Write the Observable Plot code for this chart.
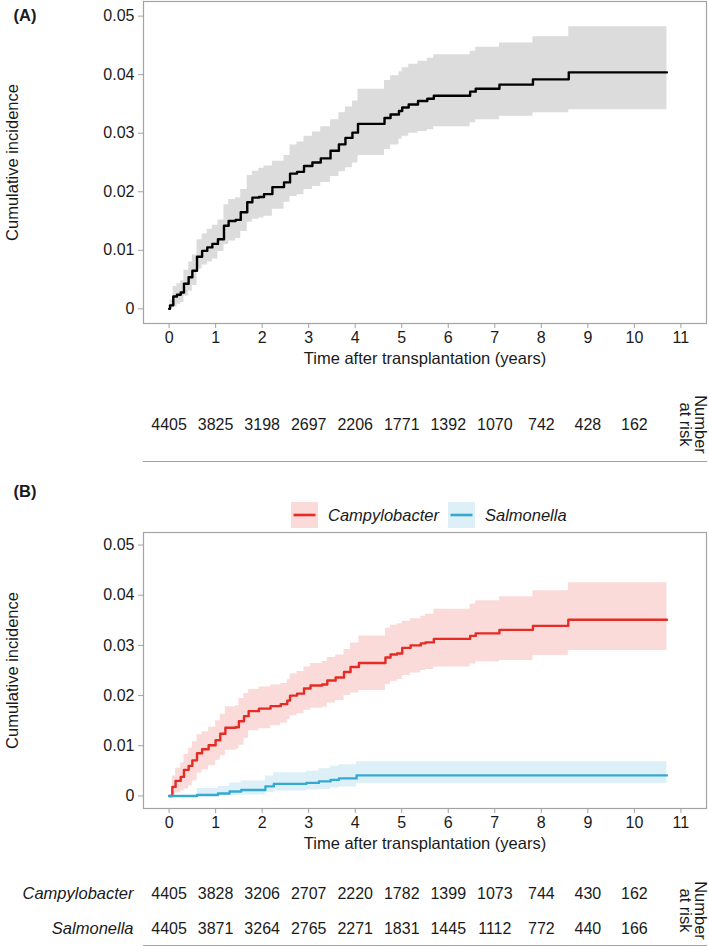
<!DOCTYPE html>
<html><head><meta charset="utf-8">
<script src="https://cdn.jsdelivr.net/npm/d3@7"></script>
<script src="https://cdn.jsdelivr.net/npm/@observablehq/plot@0.6"></script>
<style>
body{margin:0;background:#fff;}
#root{position:relative;width:709px;height:946px;font-family:"Liberation Sans",Arial,Helvetica,sans-serif;color:#1a1a1a;overflow:hidden;}
#root > svg, #root > div{position:absolute;left:0;}
.lg{display:flex;align-items:center;font-size:16.5px;font-style:italic;}
</style></head><body><div id="root"></div>
<script>
// ---------- data ----------
const xTicks = [0,1,2,3,4,5,6,7,8,9,10,11];
const yTicks = [0,0.01,0.02,0.03,0.04,0.05];
const xTitle = "Time after transplantation (years)";
const yTitle = "Cumulative incidence";
const riskTitleLines = ["Number", "at risk"];
const groups = ["Campylobacter","Salmonella"];

// Panel A: overall cumulative incidence
const aTime = [0,0.02,0.09,0.17,0.25,0.32,0.42,0.5,0.6,0.71,0.82,0.93,1.05,1.18,1.28,1.43,1.54,1.68,1.79,1.93,2.04,2.22,2.47,2.6,2.75,2.9,3.08,3.26,3.47,3.65,3.79,3.94,4.06,4.63,4.76,4.94,5.01,5.15,5.35,5.55,5.69,6.47,6.59,7.1,7.82,8.59,10.7];
const aEst  = [0,0.0006,0.0021,0.0024,0.0028,0.0043,0.0054,0.0065,0.0089,0.0099,0.0105,0.0111,0.0119,0.0142,0.0150,0.0152,0.0165,0.0182,0.0190,0.0191,0.0196,0.0208,0.0216,0.0231,0.0234,0.0244,0.0250,0.0257,0.0270,0.0281,0.0292,0.0301,0.0316,0.0326,0.0332,0.0338,0.0344,0.0349,0.0355,0.0359,0.0364,0.0371,0.0376,0.0383,0.0392,0.0404,0.0404];
const aLo   = [0,0,0.0003,0.0008,0.0011,0.0022,0.0030,0.0040,0.0068,0.0075,0.0080,0.0085,0.0098,0.0110,0.0116,0.0120,0.0132,0.0148,0.0153,0.0155,0.0158,0.0170,0.0182,0.0192,0.0195,0.0204,0.0209,0.0216,0.0226,0.0234,0.0241,0.0249,0.0262,0.0272,0.0280,0.0290,0.0295,0.0300,0.0303,0.0306,0.0311,0.0318,0.0323,0.0329,0.0335,0.0340,0.0340];
const aHi   = [0,0.0015,0.0038,0.0043,0.0048,0.0066,0.0080,0.0092,0.0118,0.0128,0.0136,0.0143,0.0152,0.0178,0.0187,0.0190,0.0204,0.0228,0.0235,0.0240,0.0244,0.0252,0.0262,0.0280,0.0285,0.0295,0.0302,0.0311,0.0323,0.0335,0.0345,0.0355,0.0375,0.0390,0.0398,0.0405,0.0412,0.0418,0.0423,0.0428,0.0434,0.0440,0.0447,0.0454,0.0465,0.0482,0.0482];

// Panel B: Campylobacter
const cTime = [0,0.07,0.14,0.25,0.32,0.42,0.5,0.6,0.71,0.85,1.0,1.1,1.21,1.43,1.5,1.61,1.71,1.93,2.18,2.4,2.54,2.6,2.75,2.9,3.04,3.29,3.4,3.58,3.76,3.9,4.08,4.65,4.76,4.9,5.01,5.19,5.41,5.51,5.69,6.47,6.59,7.1,7.82,8.58,10.7];
const cEst  = [0,0.0018,0.0030,0.0038,0.0052,0.0060,0.0071,0.0085,0.0093,0.0101,0.0111,0.0124,0.0136,0.0137,0.0149,0.0159,0.0169,0.0174,0.0179,0.0183,0.0190,0.0200,0.0204,0.0214,0.0220,0.0222,0.0230,0.0236,0.0247,0.0257,0.0265,0.0276,0.0282,0.0284,0.0295,0.0300,0.0304,0.0306,0.0313,0.0319,0.0324,0.0331,0.0339,0.0351,0.0351];
const cLo   = [0,0.0002,0.0006,0.0010,0.0014,0.0020,0.0030,0.0045,0.0052,0.0060,0.0071,0.0080,0.0091,0.0093,0.0101,0.0115,0.0130,0.0134,0.0140,0.0145,0.0152,0.0160,0.0164,0.0171,0.0175,0.0177,0.0185,0.0190,0.0200,0.0205,0.0210,0.0222,0.0228,0.0232,0.0240,0.0245,0.0250,0.0252,0.0257,0.0263,0.0267,0.0270,0.0280,0.0290,0.0290];
const cHi   = [0,0.0040,0.0055,0.0066,0.0083,0.0095,0.0108,0.0122,0.0128,0.0137,0.0150,0.0163,0.0178,0.0180,0.0194,0.0204,0.0212,0.0217,0.0221,0.0224,0.0232,0.0243,0.0248,0.0257,0.0264,0.0268,0.0276,0.0281,0.0292,0.0305,0.0319,0.0334,0.0340,0.0343,0.0348,0.0353,0.0358,0.0362,0.0372,0.0382,0.0389,0.0397,0.0409,0.0425,0.0425];

// Panel B: Salmonella
const sTime = [0,0.6,1.05,1.3,1.55,2.07,2.25,2.95,3.22,3.47,3.65,4.03,10.7];
const sEst  = [0,0.0002,0.0005,0.0009,0.0012,0.0019,0.0024,0.0026,0.0029,0.0032,0.0035,0.0041,0.0041];
const sLo   = [0,0,0,0.0001,0.0002,0.0007,0.0010,0.0012,0.0013,0.0016,0.0018,0.0025,0.0025];
const sHi   = [0,0.0015,0.0019,0.0026,0.0030,0.0040,0.0046,0.0049,0.0054,0.0059,0.0062,0.0068,0.0068];

// Numbers at risk
const riskTimes = [0,1,2,3,4,5,6,7,8,9,10];
const riskAll   = [4405,3825,3198,2697,2206,1771,1392,1070,742,428,162];
const riskCampy = [4405,3828,3206,2707,2220,1782,1399,1073,744,430,162];
const riskSalm  = [4405,3871,3264,2765,2271,1831,1445,1112,772,440,166];

// ---------- styling ----------
const FONT = '"Liberation Sans", Arial, Helvetica, sans-serif';
const INK = "#1a1a1a";
const GRID = "#a3a3a3";
const colA = {line:"#000000", fill:"#dcdcdc"};
const colC = {line:"#e52b24", fill:"#fadbd9"};
const colS = {line:"#36a9d3", fill:"#ddeff7"};
const X_DOMAIN = [-0.55, 11.55];
const Y_DOMAIN = [-0.0025, 0.0525];

const rowsOf = (t, e, lo, hi) => t.map((v,i)=>({t:v, est:e[i], lo:lo[i], hi:hi[i]}));
const root = document.getElementById("root");

function panel(series, opts){
  const marks = [];
  for (const s of series) marks.push(Plot.areaY(s.rows, {x:"t", y1:"lo", y2:"hi", curve:"step-after", fill:s.col.fill}));
  for (const s of series) marks.push(Plot.lineY(s.rows, {x:"t", y:"est", curve:"step-after", stroke:s.col.line, strokeWidth:2.4}));
  marks.push(
    Plot.frame({stroke:GRID, strokeWidth:1.2}),
    Plot.axisX({ticks:xTicks, tickSize:5, tickPadding:3, stroke:GRID, fill:INK, fontSize:16, label:null, tickFormat:d=>String(d)}),
    Plot.axisY({ticks:yTicks, tickSize:5, tickPadding:4, stroke:GRID, fill:INK, fontSize:16, label:null, tickFormat:d=>String(d)}),
    Plot.text([xTitle], {frameAnchor:"bottom", dy:35, textAnchor:"middle", lineAnchor:"middle", fontSize:16.5, fill:INK}),
    Plot.text([yTitle], {frameAnchor:"left", dx:-131, rotate:-90, textAnchor:"middle", lineAnchor:"middle", fontSize:16.5, fill:INK}),
    Plot.text([opts.label], {frameAnchor:"top-left", dx:-118.5, dy:opts.labelDy, textAnchor:"middle", lineAnchor:"middle", fontSize:16.5, fontWeight:"bold", fill:INK})
  );
  const svg = Plot.plot({
    width:709, height:opts.height, marginLeft:143, marginRight:3, marginTop:opts.marginTop, marginBottom:opts.marginBottom,
    x:{domain:X_DOMAIN}, y:{domain:Y_DOMAIN},
    style:{fontFamily:FONT, fontSize:"16px", color:INK, background:"transparent", overflow:"visible"},
    marks
  });
  svg.style.top = opts.top + "px";
  root.appendChild(svg);
}

function riskTable(groupsList, counts, opts){
  const data = [];
  groupsList.forEach((g, gi) => riskTimes.forEach((t,i)=>data.push({g, t, n:counts[gi][i]})));
  const marks = [
    Plot.text(data, {x:"t", y:"g", text:d=>String(d.n), fontSize:16, fill:INK}),
    Plot.text([riskTitleLines[0]], {frameAnchor:"right", dx:-6, rotate:90, textAnchor:"middle", lineAnchor:"middle", fontSize:16.5, fill:INK}),
    Plot.text([riskTitleLines[1]], {frameAnchor:"right", dx:-21, rotate:90, textAnchor:"middle", lineAnchor:"middle", fontSize:16.5, fill:INK}),
    Plot.frame({anchor:"bottom", stroke:GRID, strokeWidth:1.2})
  ];
  if (opts.showLabels) marks.push(Plot.text(groupsList, {y:d=>d, frameAnchor:"left", dx:-10, textAnchor:"end", lineAnchor:"middle", fontStyle:"italic", fontSize:16.5, fill:INK}));
  const svg = Plot.plot({
    width:709, height:opts.height, marginLeft:143, marginRight:3, marginTop:opts.marginTop, marginBottom:1,
    x:{domain:X_DOMAIN, axis:null}, y:{type:"point", domain:groupsList, padding:0.5, axis:null},
    style:{fontFamily:FONT, fontSize:"16px", color:INK, background:"transparent", overflow:"visible"},
    marks
  });
  svg.style.top = opts.top + "px";
  root.appendChild(svg);
}

// Panel A
panel([{rows:rowsOf(aTime,aEst,aLo,aHi), col:colA}], {top:0, height:375, marginTop:1, marginBottom:52, label:"(A)", labelDy:14});
riskTable(["All"], [riskAll], {top:385, height:77, marginTop:2, showLabels:false});

// Panel B legend
const lg = document.createElement("div");
lg.className = "lg";
lg.style.top = "502px"; lg.style.left = "291px"; lg.style.height = "26px";
function key(col){
  const ns = "http://www.w3.org/2000/svg";
  const s = document.createElementNS(ns, "svg");
  s.setAttribute("width", 27); s.setAttribute("height", 26);
  s.style.display = "block";
  const r = document.createElementNS(ns, "rect");
  r.setAttribute("width", 27); r.setAttribute("height", 26); r.setAttribute("fill", col.fill);
  const l = document.createElementNS(ns, "line");
  l.setAttribute("x1", 2.5); l.setAttribute("x2", 24.5); l.setAttribute("y1", 13); l.setAttribute("y2", 13);
  l.setAttribute("stroke", col.line); l.setAttribute("stroke-width", 2.6);
  s.appendChild(r); s.appendChild(l);
  return s;
}
[[groups[0], colC],[groups[1], colS]].forEach(([name,col],i)=>{
  const k = key(col);
  if (i===1) k.style.marginLeft = "9px";
  lg.appendChild(k);
  const sp = document.createElement("span");
  sp.textContent = name; sp.style.marginLeft = "10px";
  lg.appendChild(sp);
});
root.appendChild(lg);

// Panel B
panel([{rows:rowsOf(cTime,cEst,cLo,cHi), col:colC},{rows:rowsOf(sTime,sEst,sLo,sHi), col:colS}],
  {top:480, height:380, marginTop:52, marginBottom:52, label:"(B)", labelDy:-41});
riskTable(groups, [riskCampy, riskSalm], {top:875, height:71, marginTop:0, showLabels:true});
</script></body></html>
